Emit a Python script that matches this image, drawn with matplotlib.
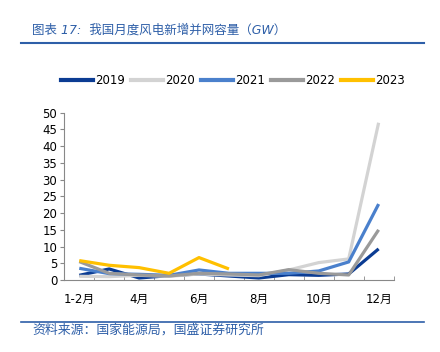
import matplotlib
matplotlib.use("Agg")
import matplotlib.pyplot as plt
from matplotlib.lines import Line2D

plt.rcParams['font.family'] = ['DejaVu Sans', 'Noto Sans CJK SC']

months = ['1-2月', '3月', '4月', '5月', '6月', '7月', '8月', '9月', '10月', '11月', '12月']
tick_labels = ['1-2月', '', '4月', '', '6月', '', '8月', '', '10月', '', '12月']
s2019 = [1.4, 3.3, 0.6, 1.3, 1.8, 1.2, 0.6, 1.6, 1.4, 1.8, 9.3]
s2020 = [1.1, 1.0, 1.4, 1.1, 1.8, 1.5, 1.3, 3.0, 5.2, 6.3, 47.0]
s2021 = [3.5, 1.9, 1.7, 1.4, 3.0, 2.0, 2.0, 2.0, 2.7, 5.4, 22.7]
s2022 = [5.5, 2.0, 1.5, 1.2, 2.0, 1.8, 1.5, 3.1, 2.0, 1.5, 15.0]
s2023 = [5.8, 4.4, 3.7, 2.0, 6.7, 3.3]
series = [('2019', s2019, '#0B3C93'), ('2020', s2020, '#D3D3D3'),
          ('2021', s2021, '#4A80CC'), ('2022', s2022, '#9A9A9A'),
          ('2023', s2023, '#FFC000')]

W, H = 440, 352
fig = plt.figure(figsize=(W/100, H/100), dpi=100)
ax = fig.add_axes([64.3/W, 1-280/H, (393.6-64.3)/W, (280-112.7)/H])

for name, vals, c in series:
    ax.plot(range(len(vals)), vals, color=c, lw=2.3, solid_capstyle='butt', label=name)

ax.set_xlim(-0.5, len(months)-0.5)
ax.set_ylim(0, 50)
ax.set_yticks(range(0, 51, 5))
ax.set_xticks(range(len(months)))
ax.set_xticklabels(tick_labels, fontsize=8.5)
ax.set_xticks([i+0.5 for i in range(-1, len(months))], minor=True)
ax.tick_params(axis='x', which='major', length=0, pad=9)
ax.tick_params(axis='x', which='minor', length=3, direction='in', color='#888888')
ax.tick_params(axis='y', length=3, direction='out', color='#888888', labelsize=8.5, pad=2)
for s in ['top', 'right']:
    ax.spines[s].set_visible(False)
for s in ['left', 'bottom']:
    ax.spines[s].set_color('#888888')
    ax.spines[s].set_linewidth(0.8)

handles = [Line2D([0], [0], color=c, lw=3) for _, _, c in series]
fig.legend(handles, [n for n, _, _ in series], loc='center', bbox_to_anchor=(233/W, 1-81/H),
           ncol=5, frameon=False, fontsize=8.5, handlelength=2.7, handletextpad=0.25,
           columnspacing=0.45)

blue = '#2E5FA8'
fig.text(32/W, 1-30/H, '图表 17:  我国月度风电新增并网容量（GW）', fontsize=9, color=blue,
         style='italic', va='center', ha='left', family=['DejaVu Sans', 'Noto Sans CJK SC'])
fig.add_artist(Line2D([21/W, 424/W], [1-43/H, 1-43/H], color=blue, lw=1.5))
fig.add_artist(Line2D([21/W, 424/W], [1-321.5/H, 1-321.5/H], color=blue, lw=1.2))
fig.text(32/W, 1-330/H, '资料来源：国家能源局，国盛证券研究所', fontsize=9.3, color=blue,
         style='italic', va='center', ha='left', family=['Noto Sans CJK SC', 'DejaVu Sans'])

fig.savefig('out.png', dpi=100)
